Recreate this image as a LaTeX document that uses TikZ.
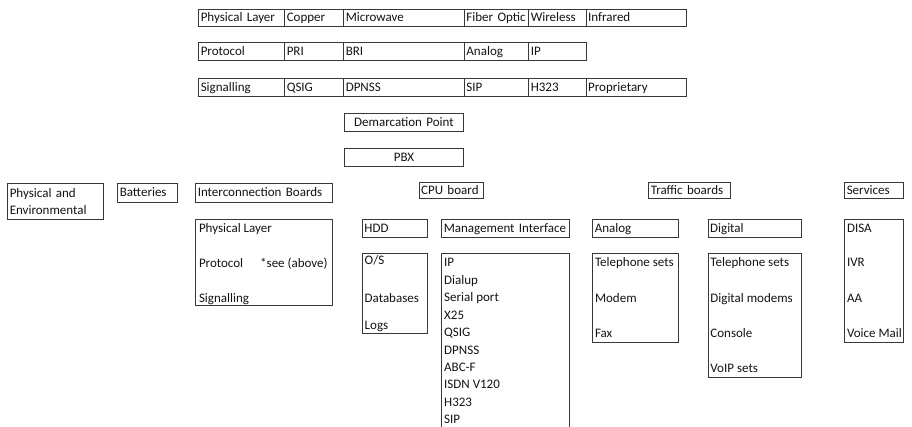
\documentclass[tikz,border=0pt]{standalone}
\usepackage{fontspec}
\setmainfont{Carlito}
\begin{document}
\begin{tikzpicture}[x=1pt,y=-1pt,
  every node/.style={font=\fontsize{13}{17.4}\selectfont, text=black!92},
  frame/.style={draw=black!78, line width=0.9pt, inner sep=0pt, anchor=north west},
  cell/.style={frame, inner xsep=2pt, inner ysep=0pt, align=left, text height=10pt, text depth=2pt},
  ctr/.style={frame, inner xsep=2pt, inner ysep=0pt, align=center, text height=10pt, text depth=2pt},
  item/.style={anchor=base west, inner sep=0pt},
]
\clip (0,0) rectangle (912,427);
\fill[white] (0,0) rectangle (912,427);

% ---- top table: row 1
\node[cell, text width=82,   minimum height=17] (pl1) at (198.3,8.7) {Physical Layer};
\node[cell, text width=55,   minimum height=17] (cu1) at (284.3,8.7) {Copper};
\node[cell, text width=116.7,minimum height=17] (mw1) at (343.3,8.7) {Microwave};
\node[cell, text width=60.3, minimum height=17] (fo1) at (464,8.7) {Fiber Optic};
\node[cell, text width=53.4, minimum height=17] (wl1) at (528.3,8.7) {Wireless};
\node[cell, text width=96,   minimum height=17] (ir1) at (585.7,8.7) {Infrared};
% ---- row 2
\node[cell, text width=82,   minimum height=17.7] (pr2) at (198.3,42.3) {Protocol};
\node[cell, text width=55,   minimum height=17.7] (pri2) at (284.3,42.3) {PRI};
\node[cell, text width=116.7,minimum height=17.7] (bri2) at (343.3,42.3) {BRI};
\node[cell, text width=60.3, minimum height=17.7] (an2) at (464,42.3) {Analog};
\node[cell, text width=53.4, minimum height=17.7] (ip2) at (528.3,42.3) {IP};
% ---- row 3
\node[cell, text width=82,   minimum height=18] (sg3) at (198.3,78) {Signalling};
\node[cell, text width=55,   minimum height=18] (qs3) at (284.3,78) {QSIG};
\node[cell, text width=116.7,minimum height=18] (dp3) at (343.3,78) {DPNSS};
\node[cell, text width=60.3, minimum height=18] (sip3) at (464,78) {SIP};
\node[cell, text width=53.4, minimum height=18] (h3) at (528.3,78) {H323};
\node[cell, text width=96,   minimum height=18] (pp3) at (585.7,78) {Proprietary};

% ---- demarcation / PBX
\node[ctr, text width=115, minimum height=18.3] (demarc) at (344,112.7) {Demarcation Point};
\node[ctr, text width=115, minimum height=18.3] (pbx) at (344,147.7) {PBX};

% ---- left headers
\node[cell, text width=92, text depth=19.4pt, minimum height=36] (phys) at (7.3,183.3) {Physical and\\Environmental};
\node[cell, text width=55.4, minimum height=18.4] (batt) at (117.3,183.3) {Batteries};
\node[cell, text width=133, minimum height=18.4] (icb) at (195.3,183.3) {Interconnection Boards};
\node[frame, minimum width=137, minimum height=85.7] (icbox) at (195.3,219.3) {};
\node[item] (ic1) at (198.8,233) {Physical Layer};
\node[item] (ic2) at (198.8,268) {Protocol};
\node[item] (ic2b) at (260,268) {*see (above)};
\node[item] (ic3) at (198.8,302) {Signalling};

% ---- CPU board
\node[cell, text width=60, minimum height=16] (cpu) at (418.7,182.3) {CPU board};
\node[cell, text width=61.3, minimum height=17.4] (hdd) at (362,219.3) {HDD};
\node[cell, text width=123.7, minimum height=17.4] (mgmt) at (441.3,219.3) {Management Interface};
\node[frame, minimum width=65.3, minimum height=79.7] (hddbox) at (362,253.3) {};
\node[item] (os) at (364.5,265) {O/S};
\node[item] (db) at (364.5,302) {Databases};
\node[item] (logs) at (364.5,329) {Logs};
\node[frame, minimum width=127.7, minimum height=190] (mgmtbox) at (441.3,253.3) {};
\node[item] (m1) at (444,267) {IP};
\node[item] (m2) at (444,284.4) {Dialup};
\node[item] (m3) at (444,301.8) {Serial port};
\node[item] (m4) at (444,319.2) {X25};
\node[item] (m5) at (444,336.6) {QSIG};
\node[item] (m6) at (444,354) {DPNSS};
\node[item] (m7) at (444,371.4) {ABC-F};
\node[item] (m8) at (444,388.8) {ISDN V120};
\node[item] (m9) at (444,406.2) {H323};
\node[item] (m10) at (444,423.6) {SIP};

% ---- Traffic boards
\node[cell, text width=77.7, minimum height=16] (traffic) at (648.3,182.3) {Traffic boards};
\node[cell, text width=82, minimum height=17.4] (analog) at (592.3,219.3) {Analog};
\node[cell, text width=89.3, minimum height=17.4] (digital) at (707.7,219.3) {Digital};
\node[frame, minimum width=86, minimum height=88.4] (anbox) at (592.3,253.3) {};
\node[item] (a1) at (594.8,267) {Telephone sets};
\node[item] (a2) at (594.8,302) {Modem};
\node[item] (a3) at (594.8,337) {Fax};
\node[frame, minimum width=93.3, minimum height=123.4] (digbox) at (707.7,253.3) {};
\node[item] (d1) at (710.2,267) {Telephone sets};
\node[item] (d2) at (710.2,302) {Digital modems};
\node[item] (d3) at (710.2,337) {Console};
\node[item] (d4) at (710.2,372) {VoIP sets};

% ---- Services
\node[cell, text width=55, minimum height=16] (serv) at (844.3,182.3) {Services};
\node[frame, minimum width=59, minimum height=122.4] (servbox) at (844.3,219.3) {};
\node[item] (s1) at (846.8,233) {DISA};
\node[item] (s2) at (846.8,267) {IVR};
\node[item] (s3) at (846.8,302) {AA};
\node[item] (s4) at (846.8,337) {Voice Mail};
\end{tikzpicture}
\end{document}
